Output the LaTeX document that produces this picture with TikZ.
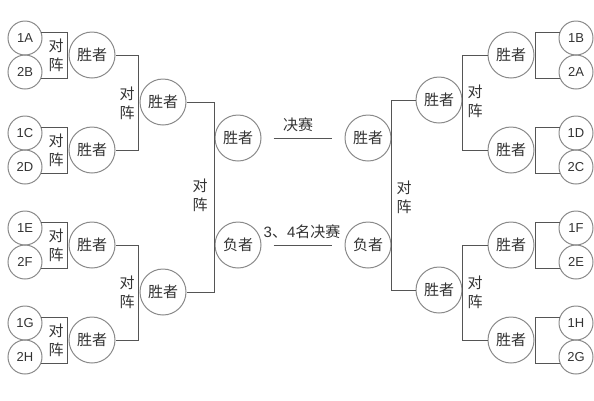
\documentclass[tikz,border=0pt]{standalone}
\usepackage{fontspec}
\setmainfont{Liberation Sans}
\newfontfamily\cjk{Noto Sans CJK SC}
\usetikzlibrary{positioning}
\definecolor{ring}{HTML}{8A8A8A}
\definecolor{wire}{HTML}{555555}
\definecolor{ink}{HTML}{333333}
\tikzset{
  seed/.style={circle, draw=ring, line width=1pt, minimum size=34pt, inner sep=0pt, text=ink, font=\fontsize{13}{13}\selectfont},
  winner/.style={circle, draw=ring, line width=1pt, minimum size=46pt, inner sep=0pt, text=ink, font=\cjk\fontsize{15}{15}\selectfont},
  vs/.style={align=center, text=ink, inner sep=0pt, font=\cjk\fontsize{15}{19}\selectfont},
  lab/.style={text=ink, inner sep=0pt, font=\cjk\fontsize{15}{15}\selectfont},
  wireline/.style={draw=wire, line width=0.8pt}
}
\begin{document}
\begin{tikzpicture}[x=1pt,y=-1pt]
\useasboundingbox (0,0) rectangle (594,400);
% left seeds
\node[seed] (L1) at (25,38) {1A};
\node[seed] (L2) at (25,72) {2B};
\node[seed] (L3) at (25,133) {1C};
\node[seed] (L4) at (25,167) {2D};
\node[seed] (L5) at (25,228) {1E};
\node[seed] (L6) at (25,262) {2F};
\node[seed] (L7) at (25,323) {1G};
\node[seed] (L8) at (25,357) {2H};
% right seeds
\node[seed] (R1) at (576,38) {1B};
\node[seed] (R2) at (576,72) {2A};
\node[seed] (R3) at (576,133) {1D};
\node[seed] (R4) at (576,167) {2C};
\node[seed] (R5) at (576,228) {1F};
\node[seed] (R6) at (576,262) {2E};
\node[seed] (R7) at (576,323) {1H};
\node[seed] (R8) at (576,357) {2G};
% level 1 winners
\node[winner] (A1) at (92,55) {胜者};
\node[winner] (A2) at (92,150) {胜者};
\node[winner] (A3) at (92,245) {胜者};
\node[winner] (A4) at (92,340) {胜者};
\node[winner] (B1) at (511,55) {胜者};
\node[winner] (B2) at (511,150) {胜者};
\node[winner] (B3) at (511,245) {胜者};
\node[winner] (B4) at (511,340) {胜者};
% level 2 winners
\node[winner] (AA1) at (163,102) {胜者};
\node[winner] (AA2) at (163,292) {胜者};
\node[winner] (BB1) at (439,100) {胜者};
\node[winner] (BB2) at (439,290) {胜者};
% centre
\node[winner] (CW) at (238,138) {胜者};
\node[winner] (CL) at (238,245) {负者};
\node[winner] (DW) at (368,138) {胜者};
\node[winner] (DL) at (368,245) {负者};
% left seed boxes
\draw[wireline] (L1.20) -- ++(26,0) |- (L2.-20);
\draw[wireline] (L3.20) -- ++(26,0) |- (L4.-20);
\draw[wireline] (L5.20) -- ++(26,0) |- (L6.-20);
\draw[wireline] (L7.20) -- ++(26,0) |- (L8.-20);
\node[vs] (v1) at (56,55) {对\\阵};
\node[vs] (v2) at (56,150) {对\\阵};
\node[vs] (v3) at (56,245) {对\\阵};
\node[vs] (v4) at (56,340) {对\\阵};
% right seed brackets
\draw[wireline] (R1.160) -- ++(-24,0) |- (R2.200);
\draw[wireline] (R3.160) -- ++(-24,0) |- (R4.200);
\draw[wireline] (R5.160) -- ++(-24,0) |- (R6.200);
\draw[wireline] (R7.160) -- ++(-24,0) |- (R8.200);
% left level 1 -> level 2
\draw[wireline] (A1.east) -- ++(23,0) |- (A2.east);
\draw[wireline] (A3.east) -- ++(23,0) |- (A4.east);
\node[vs] (v5) at (127,103) {对\\阵};
\node[vs] (v6) at (127,292) {对\\阵};
% right level 1 -> level 2
\draw[wireline] (B1.west) -- ++(-25,0) |- (B2.west);
\draw[wireline] (B3.west) -- ++(-25,0) |- (B4.west);
\node[vs] (v7) at (475,101) {对\\阵};
\node[vs] (v8) at (475,292) {对\\阵};
% level 2 -> centre
\draw[wireline] (AA1.east) -- ++(28,0) |- (AA2.east);
\draw[wireline] (BB1.west) -- ++(-24,0) |- (BB2.west);
\node[vs] (v9) at (200,195) {对\\阵};
\node[vs] (v10) at (404,197) {对\\阵};
% finals
\draw[wireline, shorten <=12pt, shorten >=13pt] (CW) -- (DW);
\draw[wireline, shorten <=12pt, shorten >=13pt] (CL) -- (DL);
\node[lab] (f1) at (298,125) {决赛};
\node[lab] (f2) at (302,232) {{\fontspec{Liberation Sans}3}、{\fontspec{Liberation Sans}4}名决赛};
\end{tikzpicture}
\end{document}
